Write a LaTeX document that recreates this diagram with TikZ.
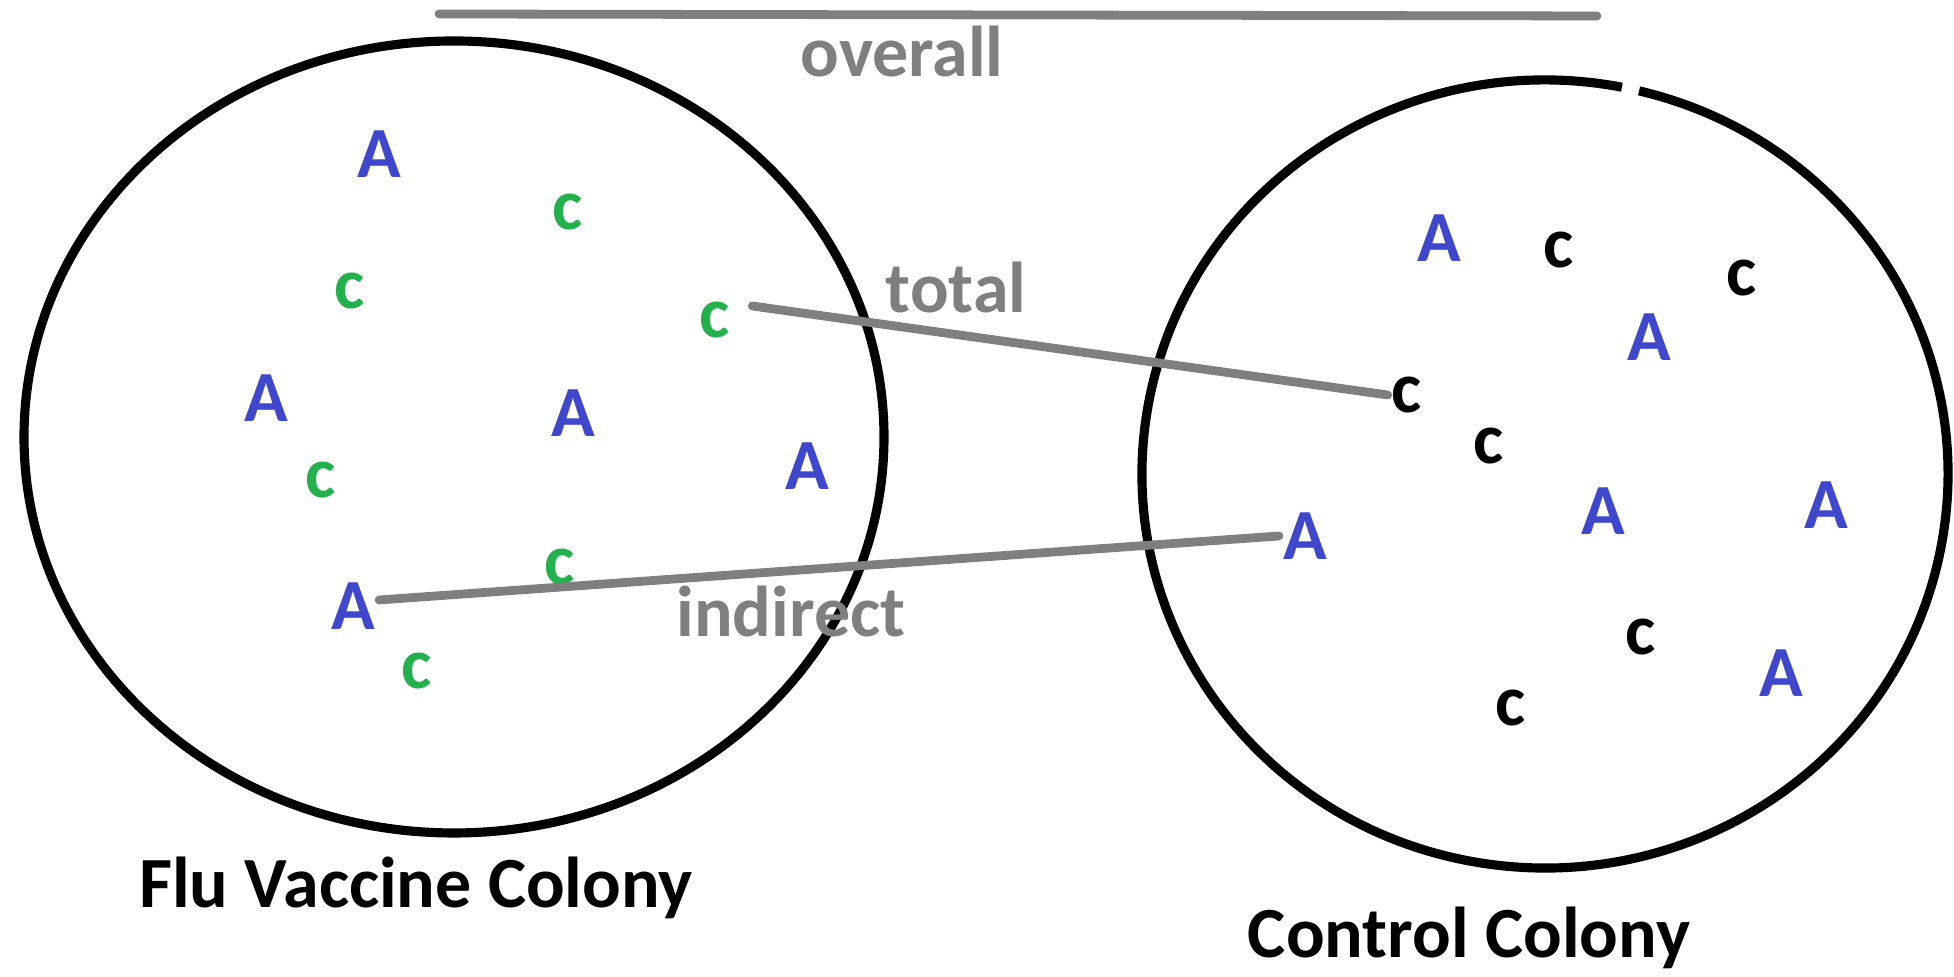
\documentclass[tikz,border=0pt]{standalone}
\usepackage{fontspec}
\setmainfont{Carlito}
\usepackage{tikz}

\definecolor{paintblue}{RGB}{63,72,204}
\definecolor{paintgreen}{RGB}{34,177,76}
\definecolor{paintgray}{RGB}{127,127,127}

\begin{document}
\begin{tikzpicture}[
  txt/.style={font=\fontsize{20.5}{24}\selectfont\bfseries, inner sep=1pt},
  adult/.style={txt, text=paintblue},
  vacc/.style={txt, text=paintgreen},
  ctrl/.style={txt, text=black},
  colony/.style={line width=2.6pt},
  link/.style={paintgray, line width=2.5pt, line cap=round},
  lbl/.style={txt, text=paintgray, anchor=base},
  title/.style={txt, anchor=base}]

\useasboundingbox (0,0) rectangle (19.54,9.77);

% colonies
\draw[colony] (4.54,5.40) ellipse [x radius=4.30, y radius=3.96];
\draw[colony] (15.45,5.03) ++(79:4.03 and 3.94) arc[start angle=79, end angle=436.5, x radius=4.03, y radius=3.94]; % small gap at the top

% flu vaccine colony
\node[adult] (fA1) at (3.79,8.23) {A};
\node[vacc]  (fc1) at (5.68,7.65) {c};
\node[vacc]  (fc2) at (3.50,6.86) {c};
\node[vacc]  (fc3) at (7.15,6.57) {c};
\node[adult] (fA2) at (2.66,5.79) {A};
\node[adult] (fA3) at (5.73,5.64) {A};
\node[adult] (fA4) at (8.07,5.11) {A};
\node[vacc]  (fc4) at (3.21,4.97) {c};
\node[vacc]  (fc5) at (5.60,4.10) {c};
\node[adult] (fA5) at (3.53,3.71) {A};
\node[vacc]  (fc6) at (4.17,3.06) {c};

% control colony
\node[adult] (cA1) at (14.39,7.39) {A};
\node[ctrl]  (cc1) at (15.59,7.27) {c};
\node[ctrl]  (cc2) at (17.42,6.99) {c};
\node[adult] (cA2) at (16.49,6.40) {A};
\node[ctrl]  (cc3) at (14.07,5.82) {c};
\node[ctrl]  (cc4) at (14.89,5.31) {c};
\node[adult] (cA3) at (16.03,4.66) {A};
\node[adult] (cA4) at (18.26,4.72) {A};
\node[adult] (cA5) at (13.05,4.41) {A};
\node[ctrl]  (cc5) at (16.41,3.40) {c};
\node[adult] (cA6) at (17.81,3.04) {A};
\node[ctrl]  (cc6) at (15.11,2.69) {c};

% comparisons
\coordinate (ovL) at (4.39,9.63);
\coordinate (ovR) at (15.97,9.61);
\draw[link] (ovL) -- (ovR);
\draw[link] ([shift={(0.18,0.14)}]fc3.east) -- (cc3.west);
\draw[link] ([yshift=0.06cm]fA5.east) -- (cA5.west);

% labels
\node[lbl] (overall) at (9.02,9.00) {overall};
\node[lbl] (total) at (9.56,6.64) {total};
\node[lbl] (indirect) at (7.91,3.40) {indirect};
\node[title] (vaccname) at (4.16,0.69) {Flu Vaccine Colony};
\node[title] (ctrlname) at (14.69,0.19) {Control Colony};
\end{tikzpicture}
\end{document}
